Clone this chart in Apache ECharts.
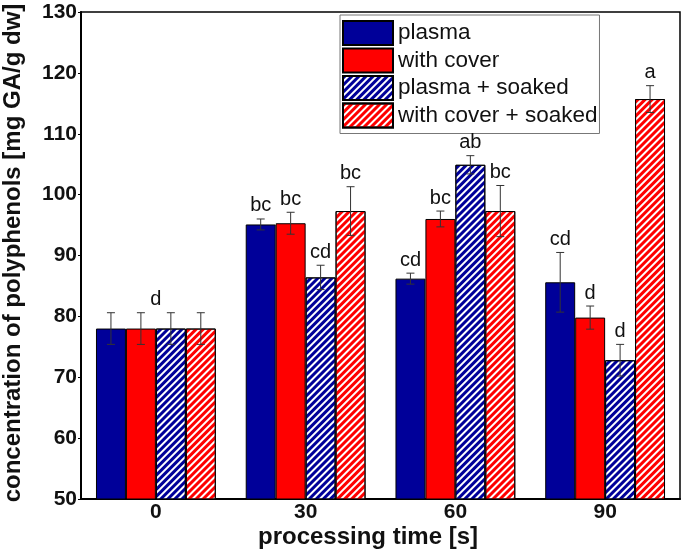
<!DOCTYPE html>
<html><head><meta charset="utf-8">
<script src="https://cdn.jsdelivr.net/npm/echarts@6/dist/echarts.min.js"></script>
<style>html,body{margin:0;padding:0;background:#fff}#c{width:685px;height:551px}</style>
</head><body><div id="c"></div>
<script>
const categories = ['0', '30', '60', '90'];
const seriesNames = ['plasma', 'with cover', 'plasma + soaked', 'with cover + soaked'];
const plasma = [78.0, 95.1, 86.2, 85.6];
const withCover = [78.0, 95.3, 96.0, 79.8];
const plasmaSoaked = [78.0, 86.4, 104.9, 72.8];
const coverSoaked = [78.0, 97.3, 97.3, 115.7];
const plasmaErr = [2.6, 0.9, 0.9, 4.9];
const withCoverErr = [2.6, 1.8, 1.3, 1.9];
const plasmaSoakedErr = [2.6, 2.0, 1.5, 2.6];
const coverSoakedErr = [2.6, 4.0, 4.2, 2.2];
const plasmaLetters = ['', 'bc', 'cd', 'cd'];
const withCoverLetters = ['', 'bc', 'bc', 'd'];
const plasmaSoakedLetters = ['', 'cd', 'ab', 'd'];
const coverSoakedLetters = ['', 'bc', 'bc', 'a'];
const groupLetters = ['d', '', '', ''];
const groupLetterErr = [2.6, 0, 0, 0];
const yMin = 50, yMax = 130, yStep = 10;
const xTitle = 'processing time [s]';
const yTitle = 'concentration of polyphenols [mg GA/g dw]';

const BLUE = '#000099', RED = '#ff0000';
const FONT = 'Liberation Sans, Arial, sans-serif';

function hatch(col) {
  return { symbol: 'rect', symbolSize: 1, dashArrayX: [1, 0], dashArrayY: [2.6, 2], rotation: -Math.PI / 4, color: col };
}

function errSeries(idx, vals, errs, letters, centered) {
  return {
    type: 'custom', name: 'err' + idx, z: 10, silent: true,
    encode: { x: 0, y: 1 },
    data: vals.map((v, i) => [i, v, errs[i]]),
    renderItem(params, api) {
      const c = api.value(0), v = api.value(1), e = api.value(2);
      const band = api.size([1, 0])[0];
      const bw = band * 0.8 / 4;
      const xOff = centered ? 0 : (idx - 1.5) * bw;
      const top = api.coord([c, v + e]);
      const bot = api.coord([c, v - e]);
      const x = top[0] + xOff;
      const cap = 4;
      const children = [];
      if (!centered) {
        children.push(
          { type: 'line', shape: { x1: x, y1: top[1], x2: x, y2: bot[1] }, style: { stroke: '#333', lineWidth: 1 } },
          { type: 'line', shape: { x1: x - cap, y1: top[1], x2: x + cap, y2: top[1] }, style: { stroke: '#333', lineWidth: 1 } },
          { type: 'line', shape: { x1: x - cap, y1: bot[1], x2: x + cap, y2: bot[1] }, style: { stroke: '#333', lineWidth: 1 } }
        );
      }
      const t = letters[params.dataIndex];
      if (t) {
        children.push({ type: 'text', style: { text: t, x: x, y: top[1] - 3, align: 'center', verticalAlign: 'bottom', font: '20px ' + FONT, fill: '#111' } });
      }
      return { type: 'group', children };
    }
  };
}

const chart = echarts.init(document.getElementById('c'));
chart.setOption({
  animation: false,
  backgroundColor: '#fff',
  grid: { left: 81, right: 5, top: 12, bottom: 52, show: true, borderColor: '#000', borderWidth: 1.5 },
  legend: {
    orient: 'vertical', left: 340, top: 15,
    data: seriesNames,
    itemWidth: 50, itemHeight: 24, itemGap: 1.5,
    borderColor: '#777', borderWidth: 1, padding: [5, 2, 5, 2],
    textStyle: { fontSize: 22.5, lineHeight: 24, color: '#111', fontFamily: FONT },
    icon: 'rect'
  },
  xAxis: {
    type: 'category', data: categories,
    axisLine: { lineStyle: { color: '#000', width: 2 } },
    axisTick: { show: false },
    axisLabel: { fontSize: 21, fontWeight: 'bold', color: '#111', fontFamily: FONT, margin: 3 }
  },
  yAxis: {
    type: 'value', min: yMin, max: yMax, interval: yStep,
    axisLine: { show: true, lineStyle: { color: '#000', width: 2 } },
    axisTick: { show: true, length: 3, lineStyle: { color: '#000' } },
    splitLine: { show: false },
    axisLabel: { fontSize: 21, fontWeight: 'bold', color: '#111', fontFamily: FONT, margin: 4 }
  },
  graphic: [
    { type: 'text', x: 368, y: 537, style: { text: xTitle, font: 'bold 24px ' + FONT, fill: '#111', align: 'center', verticalAlign: 'middle' } },
    { type: 'text', x: 13, y: 253, rotation: Math.PI / 2, style: { text: yTitle, font: 'bold 24px ' + FONT, fill: '#111', align: 'center', verticalAlign: 'middle' } }
  ],
  series: [
    { type: 'bar', name: seriesNames[0], data: plasma, barGap: '0%', barCategoryGap: '20%', itemStyle: { color: BLUE, borderColor: '#000', borderWidth: 1 } },
    { type: 'bar', name: seriesNames[1], data: withCover, itemStyle: { color: RED, borderColor: '#000', borderWidth: 1 } },
    { type: 'bar', name: seriesNames[2], data: plasmaSoaked, itemStyle: { color: '#fff', borderColor: '#000', borderWidth: 1, decal: hatch(BLUE) } },
    { type: 'bar', name: seriesNames[3], data: coverSoaked, itemStyle: { color: '#fff', borderColor: '#000', borderWidth: 1, decal: hatch(RED) } },
    errSeries(0, plasma, plasmaErr, plasmaLetters),
    errSeries(1, withCover, withCoverErr, withCoverLetters),
    errSeries(2, plasmaSoaked, plasmaSoakedErr, plasmaSoakedLetters),
    errSeries(3, coverSoaked, coverSoakedErr, coverSoakedLetters),
    errSeries(4, plasma, groupLetterErr, groupLetters, true)
  ]
});
</script></body></html>
